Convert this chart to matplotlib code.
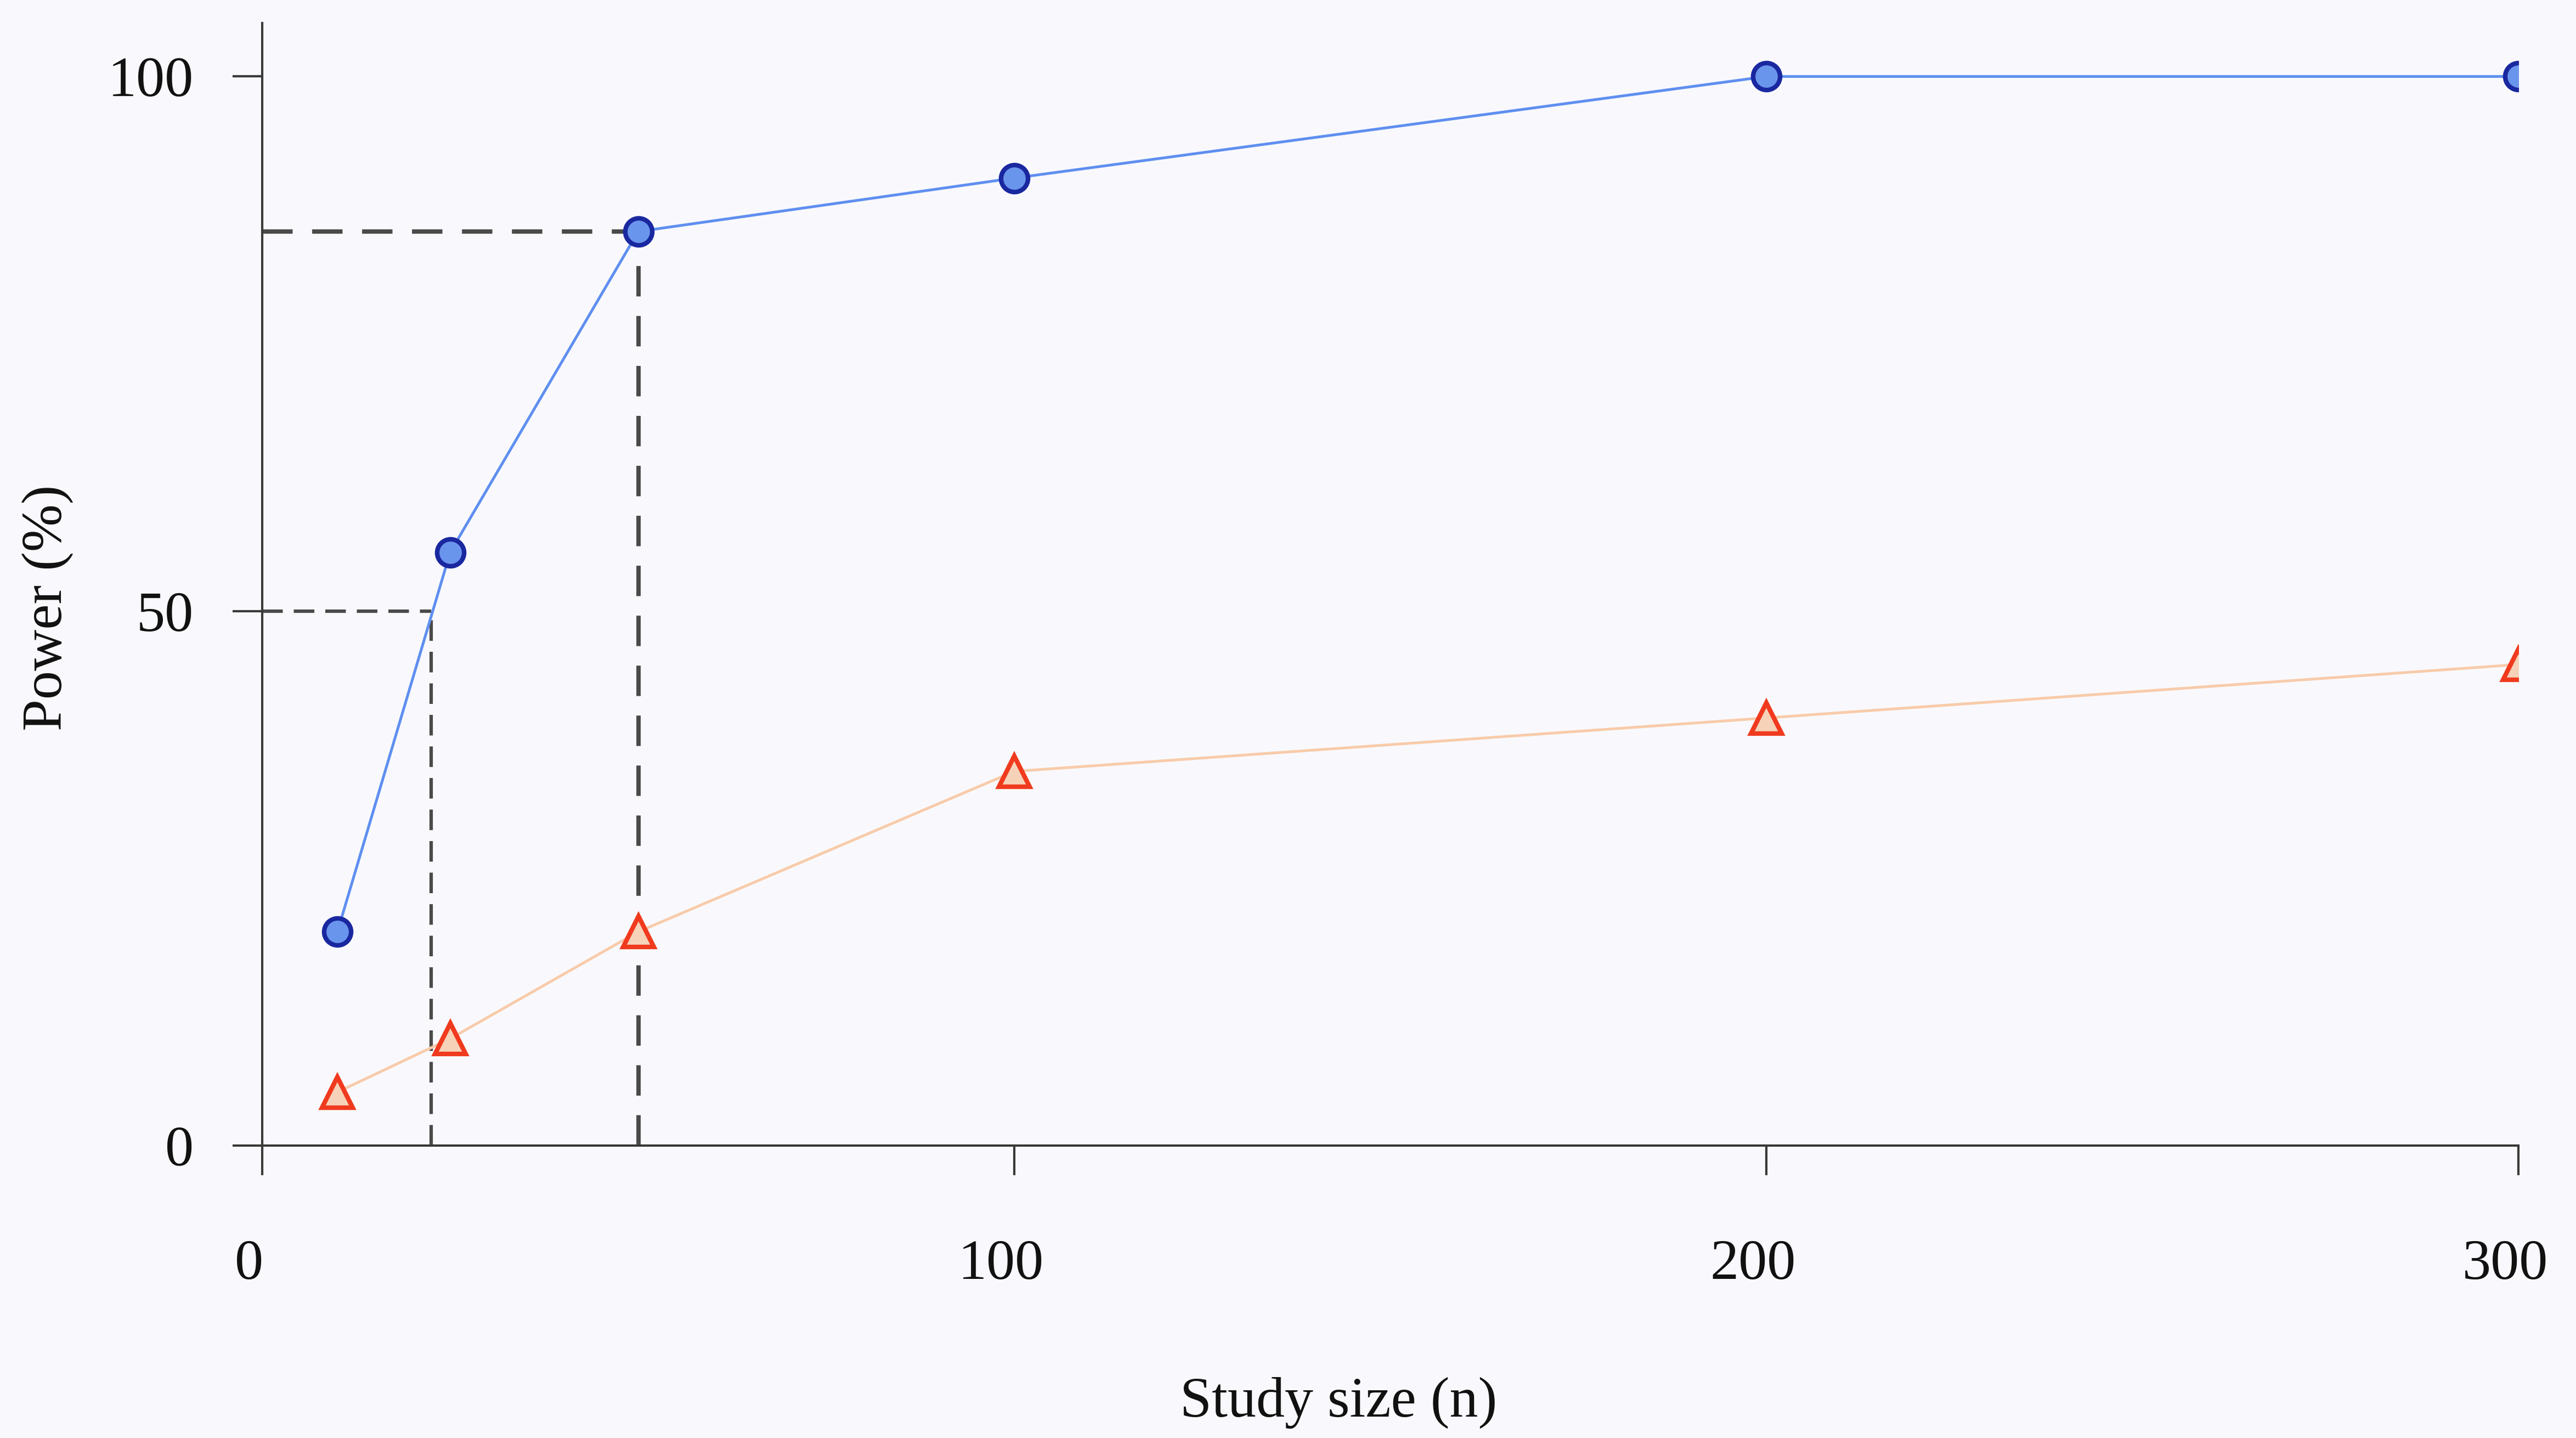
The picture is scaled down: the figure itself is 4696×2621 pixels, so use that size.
import matplotlib
matplotlib.use("Agg")
import matplotlib.pyplot as plt
from matplotlib.transforms import ScaledTranslation

# Study sizes and estimated power (%) for two scenarios
study_size = [10, 25, 50, 100, 200, 300]
power_high = [20, 55.5, 85.5, 90.5, 100, 100]
power_low = [5, 10, 20, 35, 40, 45]

# Reference guides: power reached and the study size needed for it
guide_power = [50, 85.5]
guide_n = [22.5, 50]

x_ticks = [0, 100, 200, 300]
y_ticks = [0, 50, 100]

plt.rcParams["font.family"] = ["Liberation Serif", "DejaVu Serif"]

W, H, DPI = 4696, 2621, 300
fig = plt.figure(figsize=(W / DPI, H / DPI), dpi=DPI, facecolor="#f9f9fd")
ax = fig.add_axes([478 / W, 1 - 2088 / H, (4591 - 478) / W, (2088 - 42) / H])
ax.set_facecolor("#f9f9fd")

ax.set_xlim(0, 300)
ax.set_ylim(0, 105)

axis_color = "#3a3a3a"
for side in ("top", "right"):
    ax.spines[side].set_visible(False)
for side in ("left", "bottom"):
    ax.spines[side].set_color(axis_color)
    ax.spines[side].set_linewidth(1.0)

ax.set_xticks(x_ticks)
ax.set_yticks(y_ticks)
ax.tick_params(axis="both", direction="out", length=13, width=1.0,
               color=axis_color, labelsize=25, labelcolor="#111111")
ax.tick_params(axis="x", pad=28)
ax.tick_params(axis="y", pad=17)

# x tick labels sit a little to the left of their tick marks
shift = ScaledTranslation(-24 / DPI, 0, fig.dpi_scale_trans)
for lbl in ax.get_xticklabels():
    lbl.set_transform(lbl.get_transform() + shift)

# Dashed guide lines to the axes
styles = [dict(lw=1.5, dashes=(6, 3.2)), dict(lw=1.9, dashes=(7, 4.5))]
for p, n, st in zip(guide_power, guide_n, styles):
    ax.plot([0, n], [p, p], color="#4a4a4a", dash_capstyle="butt",
            zorder=2, **st)
    ax.plot([n, n], [0, p], color="#4a4a4a", dash_capstyle="butt",
            zorder=2, **st)

ax.plot(study_size, power_low, color="#f8cbaa", lw=1.2, zorder=3,
        marker="^", markersize=13.6, markerfacecolor="#f6d2b8",
        markeredgecolor="#f03a1e", markeredgewidth=2.0)
ax.plot(study_size, power_high, color="#5f8ff0", lw=1.2, zorder=4,
        marker="o", markersize=11.8, markerfacecolor="#6a95ec",
        markeredgecolor="#1a28a0", markeredgewidth=2.0)

ax.set_xlabel("Study size (n)", fontsize=25, color="#111111", va="center")
ax.xaxis.set_label_coords(0.477, -0.229)
ax.set_ylabel("Power (%)", fontsize=25, color="#111111", va="center")
ax.yaxis.set_label_coords(-0.095, 0.479)

fig.savefig("out.png", dpi=DPI, facecolor=fig.get_facecolor())
